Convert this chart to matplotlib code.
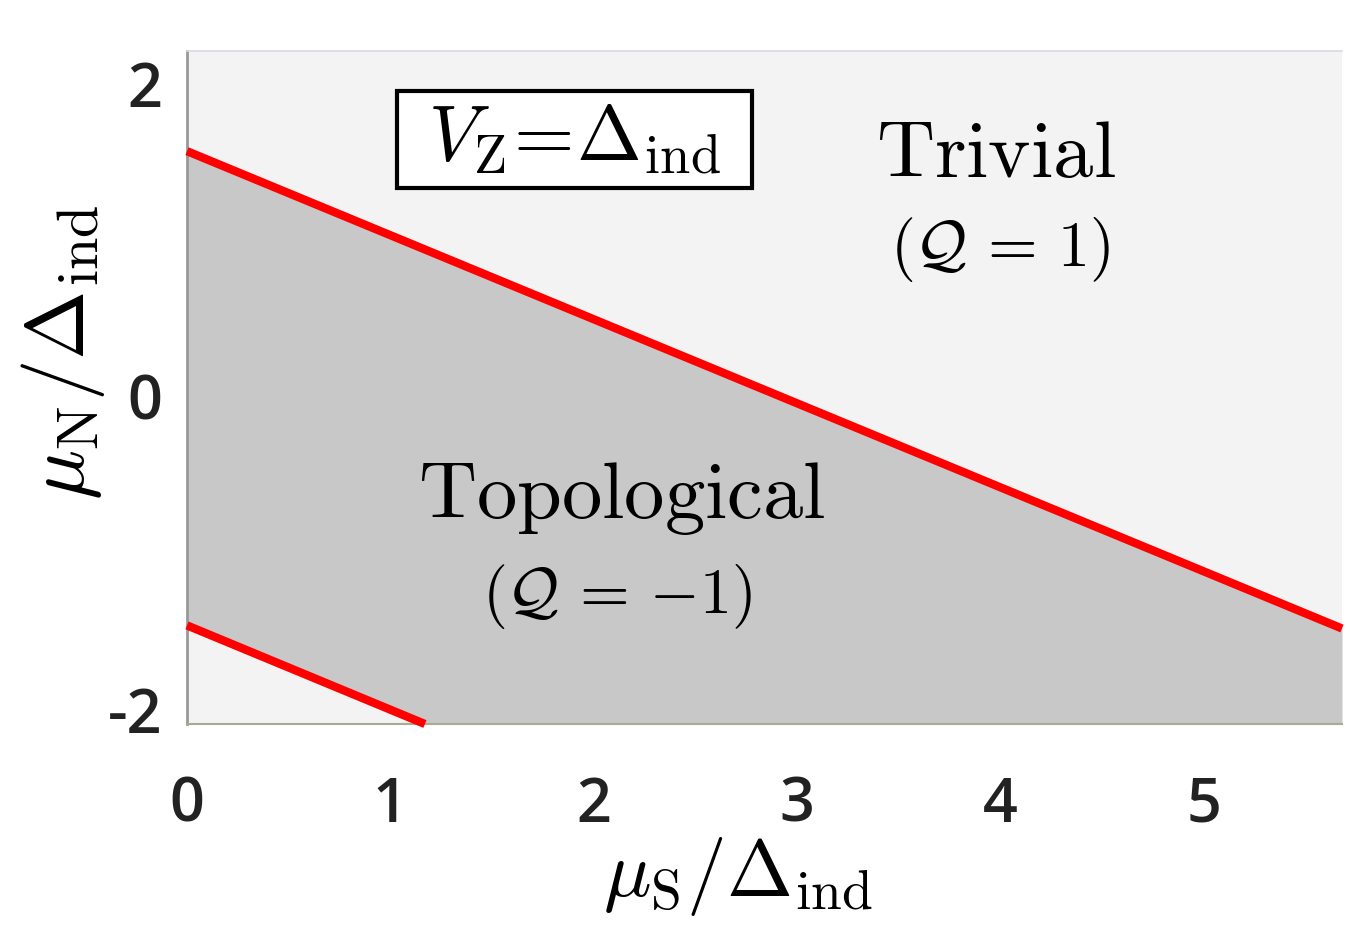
import matplotlib
matplotlib.use("Agg")
import matplotlib.pyplot as plt
from matplotlib.patches import Rectangle
import numpy as np

plt.rcParams['mathtext.fontset'] = 'cm'
plt.rcParams['font.family'] = ['Open Sans', 'DejaVu Sans']

# Data
x_limits = [0.0, 5.68]
y_limits = [-2.1, 2.2]
upper_x = [0.0, 5.68]
upper_y = [1.56, -1.49]
lower_x = [0.0, 1.17]
lower_y = [-1.47, -2.10]
x_ticks = [0, 1, 2, 3, 4, 5]
x_ticklabels = ['0', '1', '2', '3', '4', '5']
y_ticks = [2, 0, -2]
y_ticklabels = ['2', '0', '-2']

fig = plt.figure(figsize=(13.52, 9.53), dpi=100)
ax = fig.add_axes([187/1352, 1-725/953, (1342-187)/1352, (725-52)/953])
ax.set_xlim(*x_limits)
ax.set_ylim(*y_limits)

light = '#f3f3f3'
dark = '#c8c8c8'
ax.set_facecolor(light)

slope_u = (upper_y[1]-upper_y[0])/(upper_x[1]-upper_x[0])
slope_l = (lower_y[1]-lower_y[0])/(lower_x[1]-lower_x[0])
xs = np.linspace(x_limits[0], x_limits[1], 200)
yu = upper_y[0] + slope_u*(xs-upper_x[0])
yl = lower_y[0] + slope_l*(xs-lower_x[0])
ax.fill_between(xs, np.maximum(yl, y_limits[0]), yu, color=dark, lw=0, zorder=1)

ax.plot(upper_x, upper_y, color='#ff0000', lw=6, solid_capstyle='butt', zorder=3, clip_on=False)
ax.plot(lower_x, lower_y, color='#ff0000', lw=6, solid_capstyle='butt', zorder=3, clip_on=False)

ax.spines['right'].set_visible(False)
ax.spines['top'].set_color('#d8d8e6')
ax.spines['top'].set_linewidth(1.2)
ax.spines['left'].set_color('#999999')
ax.spines['left'].set_linewidth(2)
ax.spines['bottom'].set_color('#a9a994')
ax.spines['bottom'].set_linewidth(1.5)

ax.set_xticks(x_ticks)
ax.set_xticklabels(x_ticklabels)
ax.set_yticks(y_ticks)
ax.set_yticklabels(y_ticklabels)
ax.tick_params(axis='both', length=0, labelsize=44, colors='#222222')
ax.tick_params(axis='x', pad=36)
ax.tick_params(axis='y', pad=18)
for lab in ax.get_xticklabels() + ax.get_yticklabels():
    lab.set_fontweight('semibold')

fig.text(738/1352, 1-877/953, r'$\mu_{\rm S}/\Delta_{\rm ind}$', fontsize=57, ha='center', va='center')
fig.text(63/1352, 1-352/953, r'$\mu_{\rm N}/\Delta_{\rm ind}$', fontsize=60, ha='center', va='center',
         rotation=90)

ax.text(3.98, 1.54, r'$\mathrm{Trivial}$', fontsize=58, ha='center', va='center', zorder=5)
ax.text(4.0, 0.935, r'$(\mathcal{Q}\,=\,1)$', fontsize=46, ha='center', va='center', zorder=5)
ax.text(2.14, -0.64, r'$\mathrm{Topological}$', fontsize=58, ha='center', va='center', zorder=5)
ax.text(2.115, -1.276, r'$(\mathcal{Q}\,=\,{-}1)$', fontsize=46, ha='center', va='center', zorder=5)

# boxed annotation (box drawn in axes-fraction coordinates)
box = Rectangle(((397-187)/1155, (725-189)/673), (752-397)/1155, (189-92)/673,
                transform=ax.transAxes, facecolor='white', edgecolor='black', linewidth=3, zorder=5)
ax.add_patch(box)
ax.text((574-187)/1155, (725-140)/673, r'$V_{\rm Z}\!=\!\Delta_{\rm ind}$', fontsize=56,
        ha='center', va='center', zorder=6, transform=ax.transAxes)

fig.savefig('out.png', dpi=100)
